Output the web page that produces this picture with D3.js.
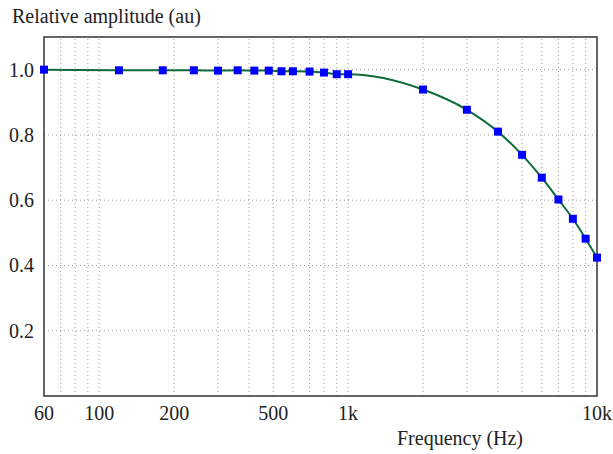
<!DOCTYPE html>
<html>
<head>
<meta charset="utf-8">
<script src="https://cdn.jsdelivr.net/npm/d3@7"></script>
<style>
  body { margin: 0; background: #fff; }
</style>
</head>
<body>
<div id="chart"></div>
<script>
// measured points (frequency in Hz, relative amplitude)
const freqs = [60, 120, 180, 240, 300, 360, 420, 480, 540, 600, 700, 800, 900, 1000,
               2000, 3000, 4000, 5000, 6000, 7000, 8000, 9000, 10000];
const amps = [1.0, 0.998, 0.998, 0.998, 0.997, 0.998, 0.997, 0.997, 0.995, 0.995, 0.994, 0.991, 0.986, 0.986,
              0.939, 0.877, 0.810, 0.739, 0.669, 0.602, 0.543, 0.482, 0.424];

const xTickVals = [60, 100, 200, 500, 1000, 10000];
const xTickText = ["60", "100", "200", "500", "1k", "10k"];
const yTickVals = [0.2, 0.4, 0.6, 0.8, 1.0];
const gridFreqs = [70, 80, 90, 100, 200, 300, 400, 500, 600, 700, 800, 900,
                   1000, 2000, 3000, 4000, 5000, 6000, 7000, 8000, 9000];

const width = 613, height = 454;
const margin = {left: 44, right: 16, top: 37, bottom: 58};
const fontFam = "'Liberation Serif', 'Times New Roman', Times, serif";

const svg = d3.select("#chart").append("svg")
    .attr("width", width)
    .attr("height", height)
    .attr("font-family", fontFam)
    .style("font-family", fontFam);

const x = d3.scaleLog().domain([60, 10000]).range([margin.left, width - margin.right]);
const y = d3.scaleLinear().domain([0, 1.1]).range([height - margin.bottom, margin.top]);

const points = freqs.map((f, i) => ({f: f, a: amps[i]}));

// grid
svg.append("g").selectAll("line")
    .data(gridFreqs)
    .enter().append("line")
    .attr("x1", d => x(d)).attr("x2", d => x(d))
    .attr("y1", y(0)).attr("y2", y(1.1))
    .attr("stroke", "#999")
    .attr("stroke-width", 1)
    .attr("stroke-dasharray", "1,3");

svg.append("g").selectAll("line")
    .data(yTickVals)
    .enter().append("line")
    .attr("x1", x(60)).attr("x2", x(10000))
    .attr("y1", d => y(d)).attr("y2", d => y(d))
    .attr("stroke", "#999")
    .attr("stroke-width", 1)
    .attr("stroke-dasharray", "1,3");

// frame
svg.append("rect")
    .attr("x", x(60)).attr("y", y(1.1))
    .attr("width", x(10000) - x(60))
    .attr("height", y(0) - y(1.1))
    .attr("fill", "none")
    .attr("stroke", "#333")
    .attr("stroke-width", 1.5);

// tick labels
svg.append("g").selectAll("text")
    .data(xTickVals)
    .enter().append("text")
    .attr("x", d => x(d))
    .attr("y", y(0) + 24)
    .attr("text-anchor", "middle")
    .attr("fill", "#222")
    .style("font-size", "20px")
    .text((d, i) => xTickText[i]);

svg.append("g").selectAll("text")
    .data(yTickVals)
    .enter().append("text")
    .attr("x", x(60) - 10)
    .attr("y", d => y(d) + 7)
    .attr("text-anchor", "end")
    .attr("fill", "#222")
    .style("font-size", "20px")
    .text(d => d.toFixed(1));

// axis titles
svg.append("text")
    .attr("x", 12).attr("y", 23)
    .attr("fill", "#222")
    .style("font-size", "20px")
    .text("Relative amplitude (au)");

svg.append("text")
    .attr("x", 460).attr("y", 445)
    .attr("text-anchor", "middle")
    .attr("fill", "#222")
    .style("font-size", "20px")
    .text("Frequency (Hz)");

// curve
const line = d3.line()
    .x(d => x(d.f))
    .y(d => y(d.a))
    .curve(d3.curveMonotoneX);

svg.append("path")
    .datum(points)
    .attr("d", line)
    .attr("fill", "none")
    .attr("stroke", "#0e6b3a")
    .attr("stroke-width", 2);

// markers
svg.append("g").selectAll("rect")
    .data(points)
    .enter().append("rect")
    .attr("x", d => x(d.f) - 4)
    .attr("y", d => y(d.a) - 4)
    .attr("width", 8)
    .attr("height", 8)
    .attr("fill", "#0000ff");
</script>
</body>
</html>
